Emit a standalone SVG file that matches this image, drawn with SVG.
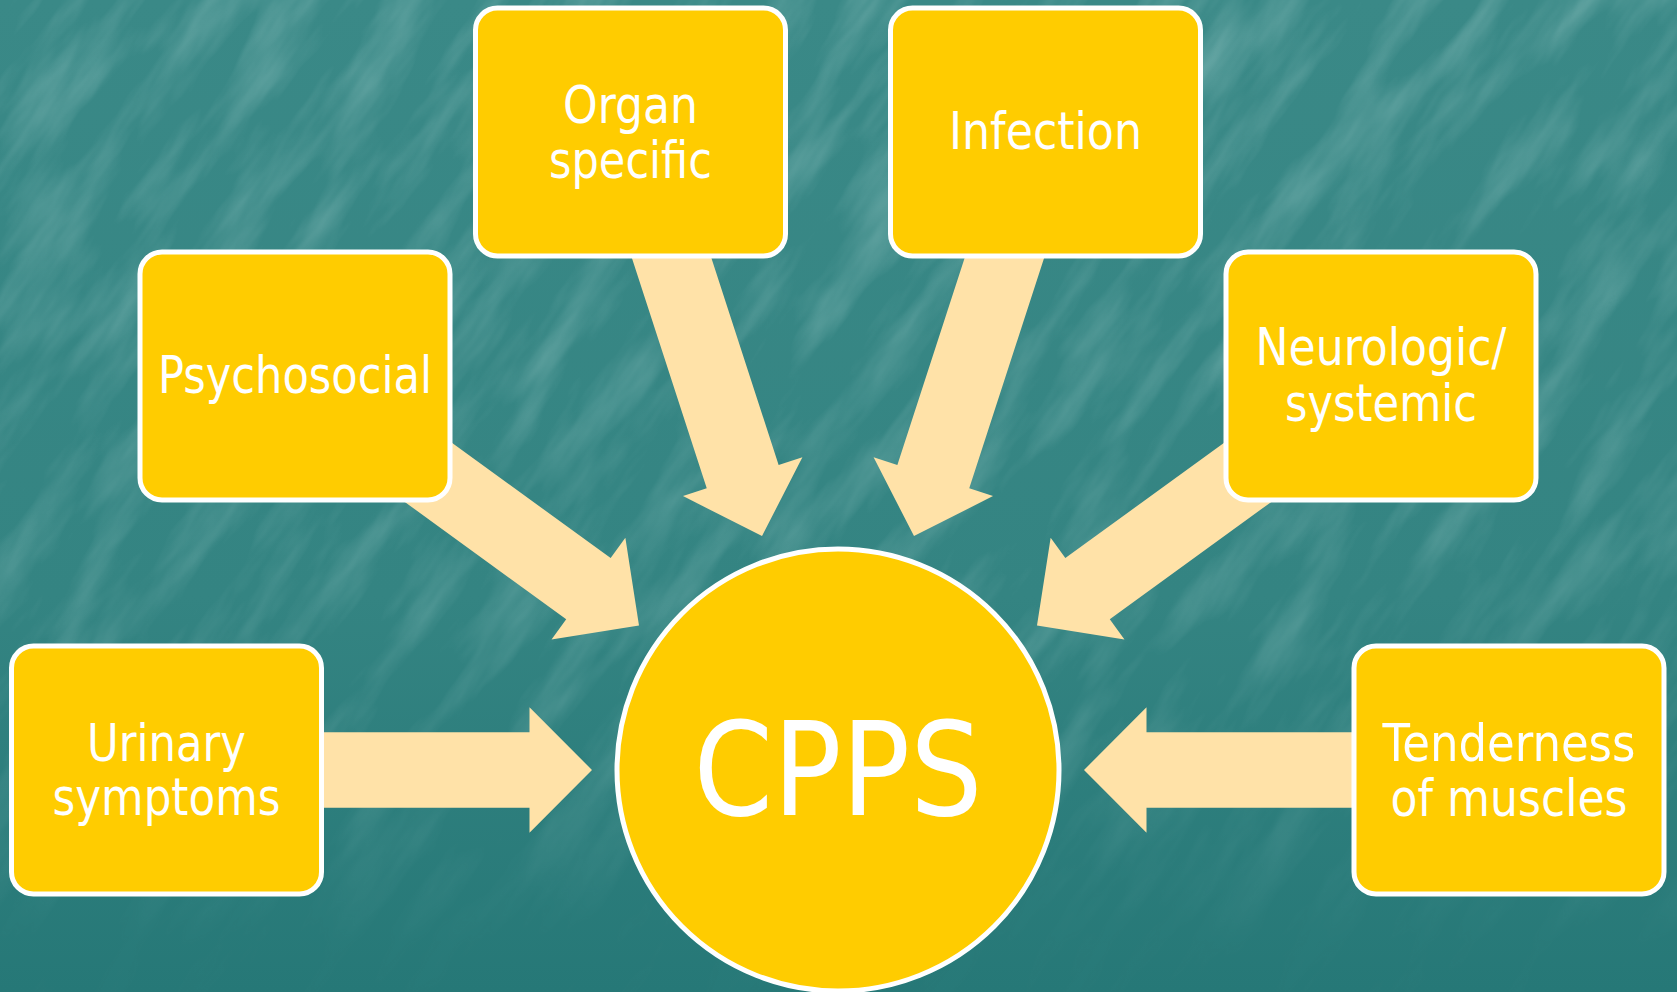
<svg xmlns="http://www.w3.org/2000/svg" xmlns:xlink="http://www.w3.org/1999/xlink" width="1677" height="992" viewBox="0 0 1677 992">
  <style>
    .box { fill: #FFCC00; stroke: #FFFFFF; stroke-width: 5; }
    .hub { fill: #FFCC00; stroke: #FFFFFF; stroke-width: 5; }
    .label { font-family: "DejaVu Sans", "Verdana", sans-serif; font-size: 52px; fill: #FFFFFF; text-anchor: middle; }
    .hub-label { font-family: "DejaVu Sans", "Verdana", sans-serif; font-size: 130px; fill: #FFFFFF; text-anchor: middle; }
    .arrow { fill: #FFE2A8; }
  </style>
  <defs>
    <linearGradient id="bg" x1="0" y1="0" x2="0" y2="1">
      <stop offset="0" stop-color="#3A8987"/>
      <stop offset="0.6" stop-color="#348482"/>
      <stop offset="1" stop-color="#267877"/>
    </linearGradient>
    <linearGradient id="fade" x1="0" y1="0" x2="0" y2="1">
      <stop offset="0" stop-color="#FFFFFF" stop-opacity="1"/>
      <stop offset="0.7" stop-color="#FFFFFF" stop-opacity="0.7"/>
      <stop offset="0.95" stop-color="#FFFFFF" stop-opacity="0.05"/>
    </linearGradient>
    <mask id="fadeMask">
      <rect x="0" y="0" width="1677" height="992" fill="url(#fade)"/>
    </mask>
    <filter id="streaks" x="0" y="0" width="100%" height="100%" filterUnits="objectBoundingBox">
      <feTurbulence type="fractalNoise" baseFrequency="0.006 0.025" numOctaves="4" seed="11"/>
      <feColorMatrix type="matrix" values="0 0 0 0 0.45  0 0 0 0 0.70  0 0 0 0 0.68  1.6 0 0 0 -0.68"/>
    </filter>
    <!-- block arrow pointing along +x, tip at the origin -->
    <path id="arrow" d="M0,0 L-62.5,-62.8 L-62.5,-37.8 L-320,-37.8 L-320,37.8 L-62.5,37.8 L-62.5,62.8 Z"/>
  </defs>

  <!-- textured teal backdrop -->
  <rect x="0" y="0" width="1677" height="992" fill="url(#bg)"/>
  <g mask="url(#fadeMask)" opacity="0.45">
    <g transform="rotate(-55 838 496)">
      <rect x="-700" y="-700" width="3080" height="2400" filter="url(#streaks)"/>
    </g>
  </g>

  <g id="connectors" class="arrow">
    <use xlink:href="#arrow" href="#arrow" transform="translate(592 770)"/>
    <use xlink:href="#arrow" href="#arrow" transform="translate(639 625.4) rotate(36)"/>
    <use xlink:href="#arrow" href="#arrow" transform="translate(762 536.1) rotate(72)"/>
    <use xlink:href="#arrow" href="#arrow" transform="translate(914 536.1) rotate(108)"/>
    <use xlink:href="#arrow" href="#arrow" transform="translate(1037 625.4) rotate(144)"/>
    <use xlink:href="#arrow" href="#arrow" transform="translate(1084 770) rotate(180)"/>
  </g>

  <g id="urinary">
    <rect class="box" x="11.5" y="646" width="310" height="248" rx="22"/>
    <text class="label" x="166.5" y="761" textLength="159" lengthAdjust="spacingAndGlyphs">Urinary</text>
    <text class="label" x="166.5" y="815" textLength="228" lengthAdjust="spacingAndGlyphs">symptoms</text>
  </g>

  <g id="psychosocial">
    <rect class="box" x="140" y="252" width="310" height="248" rx="22"/>
    <text class="label" x="295" y="393.3" textLength="274" lengthAdjust="spacingAndGlyphs">Psychosocial</text>
  </g>

  <g id="organ-specific">
    <rect class="box" x="475.5" y="8" width="310" height="248" rx="22"/>
    <text class="label" x="630.5" y="122.5" textLength="135" lengthAdjust="spacingAndGlyphs">Organ</text>
    <text class="label" x="630.5" y="177.5" textLength="163" lengthAdjust="spacingAndGlyphs">specific</text>
  </g>

  <g id="infection">
    <rect class="box" x="890.5" y="8" width="310" height="248" rx="22"/>
    <text class="label" x="1045.5" y="149.4" textLength="193" lengthAdjust="spacingAndGlyphs">Infection</text>
  </g>

  <g id="neurologic-systemic">
    <rect class="box" x="1226" y="252" width="310" height="248" rx="22"/>
    <text class="label" x="1381" y="365.3" textLength="251" lengthAdjust="spacingAndGlyphs">Neurologic/</text>
    <text class="label" x="1381" y="420.9" textLength="192" lengthAdjust="spacingAndGlyphs">systemic</text>
  </g>

  <g id="tenderness">
    <rect class="box" x="1354" y="646" width="310" height="248" rx="22"/>
    <text class="label" x="1509" y="760.7" textLength="253" lengthAdjust="spacingAndGlyphs">Tenderness</text>
    <text class="label" x="1509" y="815.7" textLength="237" lengthAdjust="spacingAndGlyphs">of muscles</text>
  </g>

  <g id="cpps">
    <circle class="hub" cx="838" cy="770" r="221"/>
    <text class="hub-label" x="838" y="815" textLength="289" lengthAdjust="spacingAndGlyphs">CPPS</text>
  </g>
</svg>
